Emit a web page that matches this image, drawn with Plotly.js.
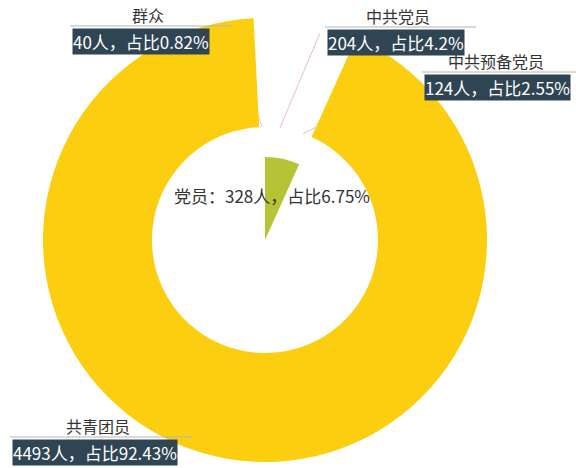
<!DOCTYPE html>
<html>
<head>
<meta charset="utf-8">
<script src="https://cdn.plot.ly/plotly-3.0.1.min.js"></script>
<style>html,body{margin:0;padding:0;background:#fff;}#chart{width:576px;height:468px;}</style>
</head>
<body>
<div id="chart"></div>
<script>
// ---- data ----
var outerNames = ['中共党员', '中共预备党员', '共青团员', '群众'];
var outerValues = [204, 124, 4493, 40];
var innerNames = ['党员', '其他'];
var innerValues = [328, 4533];
var unit = '人';

// ---- styles ----
var outerColors = ['rgba(255,255,255,0)', 'rgba(255,255,255,0)', '#FCCE10', 'rgba(255,255,255,0)'];
var innerColors = ['#B5C334', 'rgba(255,255,255,0)'];
var W = 576, H = 468;
var cx = 265, cy = 240, R = 222, r = 113, rIn = 83;
var FONT = 'Noto Sans CJK SC, sans-serif';
function px(x){return x / W;}
function py(y){return 1 - y / H;}

var total = outerValues.reduce(function(a,b){return a+b;},0);
function pct(v){return parseFloat((v / total * 100).toFixed(2));}

// label layout (positions of the callouts, pixels)
var labelSpots = {
  '群众':      {lineX0: 70,  lineX1: 232, lineY: 26,  side: 'right', tipR: r},
  '中共党员':   {lineX0: 325, lineX1: 476, lineY: 27,  side: 'left',  tipR: r},
  '中共预备党员': {lineX0: 422, lineX1: 576, lineY: 72,  side: 'left',  tipR: r},
  '共青团员':   {lineX0: 10,  lineX1: 192, lineY: 437, side: 'right', tipR: 195}
};

var annotations = [];
var shapes = [];
var cum = 0;
outerNames.forEach(function(n, i){
  var a0 = cum / total * 360;
  cum += outerValues[i];
  var a1 = cum / total * 360;
  var mid = (a0 + a1) / 2 * Math.PI / 180;
  var s = labelSpots[n];
  var tx = cx + s.tipR * Math.sin(mid), ty = cy - s.tipR * Math.cos(mid);
  var sx = s.side === 'right' ? s.lineX1 - 2 : s.lineX0 - 5;
  // underline
  shapes.push({type:'line', xref:'paper', yref:'paper', x0:px(s.lineX0), x1:px(s.lineX1), y0:py(s.lineY), y1:py(s.lineY), line:{color:'#b4b4b4', width:1}});
  // leader line
  shapes.push({type:'line', xref:'paper', yref:'paper', layer:'below', x0:px(sx), y0:py(s.lineY+6), x1:px(tx), y1:py(ty), line:{color:'#ebbcc6', width:1}});
  var midX = (s.lineX0 + s.lineX1) / 2;
  annotations.push({xref:'paper', yref:'paper', x:px(midX - 3), y:py(s.lineY - 11), xanchor:'center', yanchor:'middle', showarrow:false,
    text:n, font:{family:FONT, size:16, color:'#333'}});
  annotations.push({xref:'paper', yref:'paper', x:px(s.lineX0 + 2), y:py(s.lineY + 15), xanchor:'left', yanchor:'middle', showarrow:false,
    text:outerValues[i] + unit + '，占比' + pct(outerValues[i]) + '%', bgcolor:'#2f4554', borderpad:0,
    font:{family:FONT, size:17, color:'#ffffff'}});
});

annotations.push({xref:'paper', yref:'paper', x:px(272), y:py(195), xanchor:'center', yanchor:'middle', showarrow:false,
  text: innerNames[0] + '：' + innerValues[0] + unit + '，占比' + pct(innerValues[0]) + '%',
  font:{family:FONT, size:17, color:'#333'}});

var traces = [
  {type:'pie', labels:outerNames, values:outerValues, sort:false, direction:'clockwise', rotation:0,
   hole:r/R, marker:{colors:outerColors, line:{width:0}}, textinfo:'none', hoverinfo:'label+value+percent',
   domain:{x:[px(cx-R), px(cx+R)], y:[py(cy+R), py(cy-R)]}, showlegend:false},
  {type:'pie', labels:innerNames, values:innerValues, sort:false, direction:'clockwise', rotation:0,
   marker:{colors:innerColors, line:{width:0}}, textinfo:'none', hoverinfo:'label+value+percent',
   domain:{x:[px(cx-rIn), px(cx+rIn)], y:[py(cy+rIn), py(cy-rIn)]}, showlegend:false}
];

Plotly.newPlot('chart', traces, {
  width:W, height:H, margin:{l:0,r:0,t:0,b:0}, paper_bgcolor:'#fff', plot_bgcolor:'#fff',
  showlegend:false, annotations:annotations, shapes:shapes
}, {displayModeBar:false, staticPlot:true});
</script>
</body>
</html>
